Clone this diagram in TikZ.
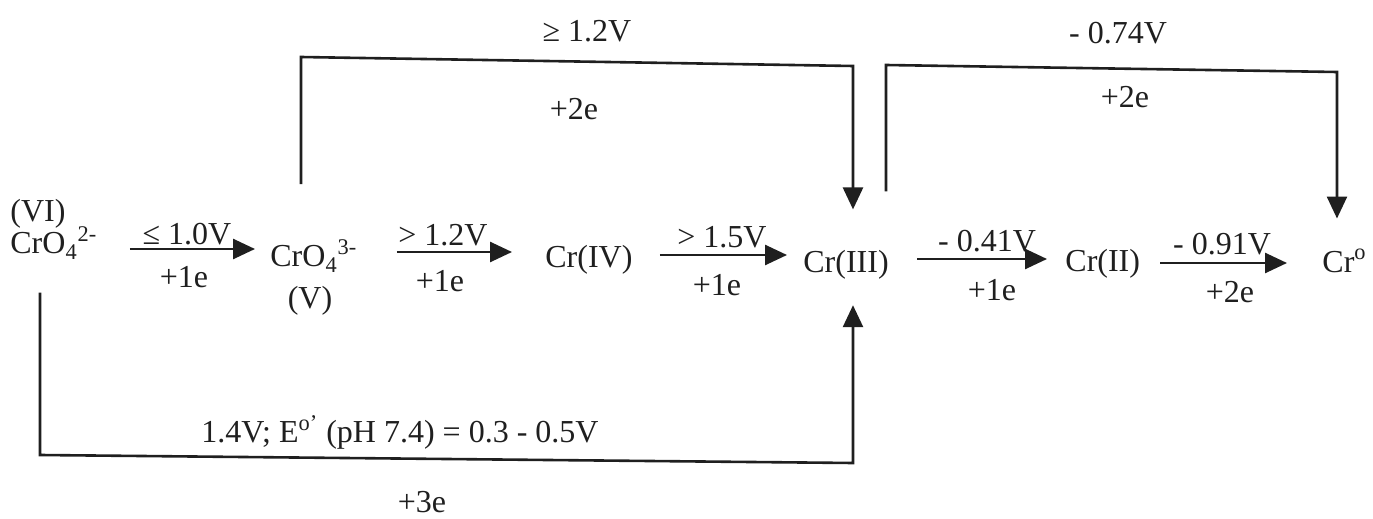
\documentclass[tikz,border=0pt]{standalone}
\usepackage{fontspec}
\setmainfont{Liberation Serif}
\usetikzlibrary{arrows.meta}
\begin{document}
\begin{tikzpicture}[x=0.5pt,y=-0.5pt,
  ink/.style={black!88},
  lbl/.style={ink, inner sep=0pt, anchor=base, font=\fontsize{16}{19}\selectfont},
  sp/.style={ink, inner sep=0pt, anchor=base west, font=\fontsize{16}{19}\selectfont},
  rx/.style={ink, line width=1.3pt, -{Triangle[length=11pt,width=10pt]}}]
\useasboundingbox (0,0) rectangle (1373,519);
% species
\node[sp] (vi) at (10,222) {(VI)};
\node[sp] (cro42) at (10,254) {CrO\textsubscript{4}\textsuperscript{2-}};
\node[sp] (cro43) at (270,267) {CrO\textsubscript{4}\textsuperscript{3-}};
\node[lbl] (v) at (310,308) {(V)};
\node[sp] (cr4) at (545,268) {Cr(IV)};
\node[sp] (cr3) at (803,272) {Cr(III)};
\node[sp] (cr2) at (1065,271) {Cr(II)};
\node[sp] (cr0) at (1322,272) {Cr\textsuperscript{o}};
% step arrows
\draw[rx, shorten <=16pt, shorten >=7.5pt] (cro42.east |- 0,249) -- (cro43.west |- 0,249);
\draw[rx, shorten <=19.5pt, shorten >=16.5pt] (cro43.east |- 0,252) -- (cr4.west |- 0,252);
\draw[rx, shorten <=13.5pt, shorten >=8pt] (cr4.east |- 0,255) -- (cr3.west |- 0,255);
\draw[rx, shorten <=14pt, shorten >=9pt] (cr3.east |- 0,259) -- (cr2.west |- 0,259);
\draw[rx, shorten <=10pt, shorten >=17.5pt] (cr2.east |- 0,263) -- (cr0.west |- 0,263);
% brackets
\draw[rx, shorten >=20pt] (cro43.north -| 301,0) ++(0,-55) -- (301,57) -- (853,66) -- (cr3.north -| 853,0);
\draw[rx, shorten >=15pt] (cr3.north -| 886,0) ++(0,-58) -- (886,65) -- (1337,72) -- (cr0.north -| 1337,0);
\draw[rx, shorten >=13pt] (cro42.south -| 40,0) ++(0,33) -- (40,455) -- (853,463) -- (cr3.south -| 853,0);
% labels
\node[lbl] (l1) at (187,245) {≤ 1.0V};
\node[lbl] (e1) at (184,287) {+1e};
\node[lbl] (l2) at (443,246) {> 1.2V};
\node[lbl] (e2) at (440,292) {+1e};
\node[lbl] (l3) at (722,248) {> 1.5V};
\node[lbl] (e3) at (717,295) {+1e};
\node[lbl] (l4) at (987,252) {- 0.41V};
\node[lbl] (e4) at (992,300) {+1e};
\node[lbl] (l5) at (1222,255) {- 0.91V};
\node[lbl] (e5) at (1230,302) {+2e};
\node[lbl] (t1) at (587,42) {≥ 1.2V};
\node[lbl] (t1e) at (574,120) {+2e};
\node[lbl] (t2) at (1118,44) {- 0.74V};
\node[lbl] (t2e) at (1125,108) {+2e};
\node[lbl] (b3) at (400,443) {1.4V; E\textsuperscript{o’} (pH 7.4) = 0.3 - 0.5V};
\node[lbl] (b3e) at (422,512) {+3e};
\end{tikzpicture}
\end{document}
